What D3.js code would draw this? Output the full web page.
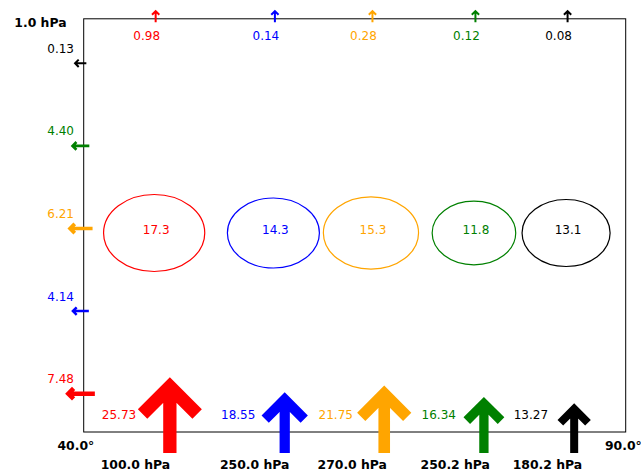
<!DOCTYPE html>
<html>
<head>
<meta charset="utf-8">
<script src="https://cdn.jsdelivr.net/npm/d3@7"></script>
<style>
  html, body { margin: 0; padding: 0; background: #fff; }
  svg { display: block; font-family: "DejaVu Sans", sans-serif; }
</style>
</head>
<body>
<svg id="chart" width="641" height="472"></svg>
<script>
// Columns along latitude
const columnLat = [46.5, 57.5, 66.5, 76.0, 84.5];
const columnColors = ["#ff0000", "#0000ff", "#ffa500", "#008000", "#000000"];
const topValues = [0.98, 0.14, 0.28, 0.12, 0.08];
const ellipseValues = [17.3, 14.3, 15.3, 11.8, 13.1];
const bottomValues = [25.73, 18.55, 21.75, 16.34, 13.27];
const levelLabels = ["100.0 hPa", "250.0 hPa", "270.0 hPa", "250.2 hPa", "180.2 hPa"];

// Side (left edge) fluxes, listed top to bottom
const sideValues = [0.13, 4.40, 6.21, 4.14, 7.48];
const sideColors = ["#000000", "#008000", "#ffa500", "#0000ff", "#ff0000"];

// Axis extent and corner labels
const latDomain = [40, 90];
const latLabels = ["40.0°", "90.0°"];
const topLevelLabel = "1.0 hPa";

const svg = d3.select("#chart");
const box = { left: 83.7, right: 625.7, top: 18.8, bottom: 432 };

const x = d3.scaleLinear().domain(latDomain).range([box.left, box.right]);
const sideY = d3.scalePoint().domain(d3.range(sideValues.length)).range([63.3, 393.7]);

// Ellipse radii grow with the square root of the value
const rx = d3.scaleSqrt().domain([0, 17.3]).range([0, 50.6]);
const ry = d3.scaleSqrt().domain([0, 17.3]).range([0, 38.5]);

// Thin arrows (side and top), with a floor for tiny values
const thinLen = d3.scaleLinear().domain([2.75, 7.48]).range([12.7, 29.7]).clamp(true);
const thinWidth = d3.scaleLinear().domain([3.3, 7.48]).range([2, 4.5]).clamp(true);
const thinHead = d3.scaleLinear().domain([3.7, 7.48]).range([8.7, 13.7]).clamp(true);

// Bold arrows at the bottom
const boldLen = d3.scaleLinear().domain([13.27, 25.73]).range([49.7, 75.7]);
const boldWidth = d3.scaleLinear().domain([13.27, 25.73]).range([8, 13.3]);
const boldHead = d3.scaleLinear().domain([13.27, 25.73]).range([33.3, 64]);

const fmt2 = d3.format(".2f");
const fmt1 = d3.format(".1f");

// Arrow with an open chevron head; len is the visible length from tail to tip
function arrow(g, tail, dir, len, sw, headTotal, color) {
  const k = Math.SQRT1_2 * sw;
  const tip = [tail[0] + dir[0] * (len - k), tail[1] + dir[1] * (len - k)];
  const h = headTotal / 2 - 0.354 * sw;
  const n = [-dir[1], dir[0]];
  const a1 = [tip[0] - dir[0] * h + n[0] * h, tip[1] - dir[1] * h + n[1] * h];
  const a2 = [tip[0] - dir[0] * h - n[0] * h, tip[1] - dir[1] * h - n[1] * h];
  const p = d3.path();
  p.moveTo(tail[0], tail[1]);
  p.lineTo(tip[0], tip[1]);
  p.moveTo(a1[0], a1[1]);
  p.lineTo(tip[0], tip[1]);
  p.lineTo(a2[0], a2[1]);
  g.append("path")
    .attr("d", p.toString())
    .attr("fill", "none")
    .attr("stroke", color)
    .attr("stroke-width", sw)
    .attr("stroke-linejoin", "miter")
    .attr("stroke-miterlimit", 10)
    .attr("stroke-linecap", "butt");
}

// Frame
svg.append("rect")
  .attr("x", box.left).attr("y", box.top)
  .attr("width", box.right - box.left).attr("height", box.bottom - box.top)
  .attr("fill", "none").attr("stroke", "#000").attr("stroke-width", 1);

const marks = svg.append("g");

columnLat.forEach((lat, i) => {
  const cx = x(lat);
  const color = columnColors[i];

  // Ellipse with its value
  marks.append("ellipse")
    .attr("cx", cx).attr("cy", 233)
    .attr("rx", rx(ellipseValues[i])).attr("ry", ry(ellipseValues[i]))
    .attr("fill", "none").attr("stroke", color).attr("stroke-width", 1.2);
  marks.append("text")
    .attr("x", cx + 2).attr("y", 233.5)
    .attr("text-anchor", "middle").attr("font-size", 12).attr("fill", color)
    .text(fmt1(ellipseValues[i]));

  // Upward flux through the top
  const tl = thinLen(topValues[i]);
  arrow(marks, [cx + 1.5, 16 + tl / 2], [0, -1], tl,
        thinWidth(topValues[i]), thinHead(topValues[i]), color);
  marks.append("text")
    .attr("x", cx - 7.5).attr("y", 39.5)
    .attr("text-anchor", "middle").attr("font-size", 12).attr("fill", color)
    .text(fmt2(topValues[i]));

  // Upward flux through the bottom
  const bv = bottomValues[i];
  arrow(marks, [cx + 0.61 * bv, 453], [0, -1], boldLen(bv),
        boldWidth(bv), boldHead(bv), color);
  marks.append("text")
    .attr("x", cx - 18).attr("y", 419.3)
    .attr("text-anchor", "end").attr("font-size", 12).attr("fill", color)
    .text(fmt2(bv));

  // Level label below the column
  marks.append("text")
    .attr("x", cx - 18.7).attr("y", 468.5)
    .attr("text-anchor", "middle").attr("font-size", 12.4).attr("font-weight", "bold")
    .attr("fill", "#000")
    .text(levelLabels[i]);
});

// Fluxes through the left edge
sideValues.forEach((v, i) => {
  const y = sideY(i);
  const L = thinLen(v);
  arrow(marks, [80 + L / 2, y], [-1, 0], L, thinWidth(v), thinHead(v), sideColors[i]);
  marks.append("text")
    .attr("x", 74).attr("y", y - 10.5)
    .attr("text-anchor", "end").attr("font-size", 12).attr("fill", sideColors[i])
    .text(fmt2(v));
});

// Corner labels
svg.append("text")
  .attr("x", 66.5).attr("y", 27)
  .attr("text-anchor", "end").attr("font-size", 12.4).attr("font-weight", "bold")
  .text(topLevelLabel);
svg.append("text")
  .attr("x", 57.5).attr("y", 450)
  .attr("text-anchor", "start").attr("font-size", 12.4).attr("font-weight", "bold")
  .text(latLabels[0]);
svg.append("text")
  .attr("x", 605).attr("y", 450)
  .attr("text-anchor", "start").attr("font-size", 12.4).attr("font-weight", "bold")
  .text(latLabels[1]);
</script>
</body>
</html>
